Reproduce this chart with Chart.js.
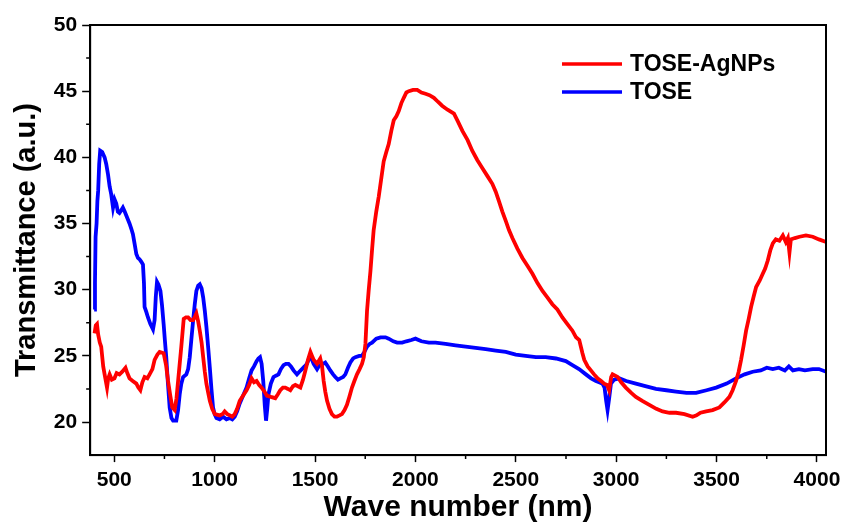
<!DOCTYPE html>
<html>
<head>
<meta charset="utf-8">
<title>Transmittance spectra</title>
<script src="https://cdn.jsdelivr.net/npm/chart.js@4.4.1/dist/chart.umd.min.js"></script>
<style>
    html, body { margin: 0; padding: 0; background: #fff; }
    #wrap { width: 845px; height: 522px; }
</style>
</head>
<body>
<div id="wrap"><canvas id="specChart" width="845" height="522"></canvas></div>
<script>
// Transmittance spectra: TOSE-AgNPs vs TOSE

// axis ticks
const xMajorTicks = [500, 1000, 1500, 2000, 2500, 3000, 3500, 4000];
const xMinorTicks = [750, 1250, 1750, 2250, 2750, 3250, 3750];
const yMajorTicks = [20, 25, 30, 35, 40, 45, 50];
const yMinorTicks = [22.5, 27.5, 32.5, 37.5, 42.5, 47.5];

// TOSE-AgNPs (red)
const agWave = [
    402, 408, 414, 420, 428, 435, 445, 452, 464, 470, 477, 488, 501, 512, 526, 540, 556, 565, 576, 592,
    610, 620, 630, 640, 651, 665, 676, 690, 701, 715, 726, 746, 758, 768, 779, 789, 801, 810, 818, 826,
    834, 846, 857, 868, 880, 893, 903, 909, 918, 926, 935, 943, 951, 959, 968, 976, 988, 1001, 1025, 1040,
    1050, 1063, 1076, 1088, 1100, 1112, 1125, 1142, 1159, 1172, 1184, 1196, 1209, 1222, 1234, 1248, 1260, 1280, 1302, 1315,
    1327, 1340, 1352, 1365, 1377, 1390, 1402, 1415, 1427, 1440, 1452, 1465, 1477, 1485, 1493, 1510, 1526, 1535, 1543, 1551,
    1560, 1572, 1584, 1597, 1609, 1622, 1634, 1647, 1659, 1671, 1684, 1696, 1709, 1722, 1734, 1743, 1751, 1759, 1767, 1776,
    1784, 1792, 1805, 1817, 1830, 1842, 1855, 1867, 1880, 1892, 1905, 1917, 1930, 1942, 1955, 1967, 1988, 2009, 2030, 2050,
    2070, 2092, 2112, 2133, 2160, 2192, 2212, 2234, 2260, 2283, 2308, 2333, 2358, 2383, 2400, 2416, 2433, 2450, 2466, 2483,
    2508, 2533, 2558, 2583, 2608, 2633, 2658, 2682, 2707, 2732, 2757, 2782, 2800, 2816, 2832, 2841, 2858, 2874, 2890, 2907,
    2925, 2940, 2955, 2965, 2975, 2982, 2995, 3007, 3025, 3048, 3075, 3098, 3130, 3165, 3200, 3231, 3265, 3298, 3340, 3381,
    3400, 3420, 3448, 3480, 3514, 3540, 3564, 3580, 3597, 3610, 3622, 3635, 3647, 3660, 3672, 3685, 3697, 3715, 3730, 3742,
    3755, 3768, 3780, 3795, 3813, 3830, 3845, 3855, 3863, 3870, 3890, 3913, 3945, 3979, 4010, 4046
];
const agTrans = [
    26.7, 27.3, 27.4, 26.6, 26.0, 25.7, 24.2, 23.6, 22.6, 23.3, 23.6, 23.2, 23.3, 23.7, 23.6, 23.8, 24.1, 23.7, 23.3, 23.1,
    22.9, 22.6, 22.4, 23.0, 23.4, 23.3, 23.6, 24.0, 24.7, 25.1, 25.3, 25.2, 24.3, 23.1, 22.0, 21.1, 20.9, 21.8, 23.1, 24.4,
    25.7, 27.8, 27.9, 27.9, 27.7, 27.7, 28.0, 28.2, 27.6, 26.9, 26.0, 24.9, 23.8, 22.9, 22.2, 21.6, 21.0, 20.6, 20.5, 20.6,
    20.8, 20.6, 20.5, 20.4, 20.6, 21.0, 21.6, 22.0, 22.4, 22.8, 23.3, 23.0, 23.1, 22.8, 22.6, 22.3, 22.0, 21.9, 21.8, 22.1,
    22.4, 22.6, 22.6, 22.5, 22.4, 22.7, 22.8, 22.7, 22.6, 23.2, 23.9, 24.7, 25.3, 25.0, 24.7, 24.4, 24.8, 24.2, 23.1, 22.3,
    21.6, 21.0, 20.6, 20.4, 20.4, 20.5, 20.6, 20.9, 21.3, 21.9, 22.6, 23.1, 23.6, 24.0, 24.4, 24.9, 25.9, 28.4, 29.9, 31.4,
    33.0, 34.5, 35.9, 37.0, 38.4, 39.7, 40.4, 41.0, 42.0, 42.8, 43.1, 43.5, 44.1, 44.5, 44.9, 45.0, 45.1, 45.1, 44.9, 44.8,
    44.7, 44.5, 44.2, 43.9, 43.6, 43.3, 42.7, 42.0, 41.3, 40.5, 39.8, 39.2, 38.6, 38.0, 37.4, 36.7, 35.9, 35.2, 34.5, 33.9,
    33.1, 32.4, 31.8, 31.2, 30.5, 29.9, 29.4, 28.9, 28.5, 27.9, 27.4, 26.9, 26.4, 26.2, 25.2, 24.7, 24.2, 23.9, 23.6, 23.3,
    23.1, 22.9, 22.8, 22.4, 23.4, 23.6, 23.5, 23.4, 23.0, 22.6, 22.2, 21.9, 21.6, 21.3, 21.0, 20.8, 20.7, 20.7, 20.6, 20.4,
    20.5, 20.7, 20.8, 20.9, 21.1, 21.5, 21.9, 22.4, 23.1, 23.8, 24.7, 25.8, 26.9, 27.8, 28.7, 29.5, 30.2, 30.7, 31.2, 31.6,
    32.2, 33.0, 33.5, 33.8, 33.7, 34.1, 33.6, 33.9, 32.8, 33.8, 33.9, 34.0, 34.1, 34.0, 33.8, 33.6
];

// TOSE (blue)
const toseWave = [
    400, 404, 407, 412, 416, 420, 425, 430, 440, 452, 460, 469, 477, 485, 494, 502, 510, 518, 526, 535,
    543, 552, 560, 568, 576, 585, 593, 601, 610, 618, 626, 635, 643, 648, 651, 660, 668, 680, 693, 701,
    707, 713, 720, 730, 738, 746, 752, 759, 767, 776, 785, 793, 809, 818, 826, 834, 843, 851, 859, 868,
    876, 885, 893, 901, 909, 918, 926, 935, 943, 951, 959, 968, 976, 984, 992, 1000, 1009, 1025, 1042, 1059,
    1076, 1088, 1100, 1112, 1125, 1142, 1159, 1172, 1184, 1196, 1209, 1218, 1226, 1234, 1242, 1250, 1256, 1262, 1268, 1280,
    1293, 1305, 1318, 1330, 1343, 1355, 1368, 1380, 1393, 1410, 1422, 1435, 1448, 1460, 1470, 1477, 1485, 1493, 1510, 1518,
    1526, 1540, 1551, 1564, 1576, 1590, 1601, 1614, 1626, 1640, 1651, 1664, 1676, 1690, 1701, 1720, 1734, 1746, 1759, 1772,
    1784, 1805, 1826, 1851, 1867, 1890, 1909, 1934, 1955, 1980, 2000, 2030, 2067, 2100, 2150, 2200, 2250, 2300, 2350, 2400,
    2450, 2500, 2549, 2600, 2649, 2700, 2749, 2782, 2815, 2849, 2875, 2899, 2915, 2932, 2942, 2950, 2957, 2965, 2974, 2990,
    3015, 3050, 3098, 3150, 3198, 3250, 3298, 3350, 3398, 3450, 3498, 3550, 3597, 3640, 3680, 3720, 3750, 3780, 3810, 3840,
    3860, 3880, 3910, 3940, 3979, 4010, 4046
];
const toseTrans = [
    28.5, 30.5, 34.0, 35.0, 36.7, 37.5, 39.5, 40.5, 40.4, 40.0, 39.5, 38.7, 37.8, 37.2, 36.2, 36.8, 36.5, 35.9, 35.8, 36.0,
    36.2, 35.9, 35.6, 35.3, 35.0, 34.6, 34.2, 33.5, 32.7, 32.4, 32.3, 32.1, 31.9, 30.5, 28.7, 28.3, 27.9, 27.4, 27.0, 27.7,
    29.5, 30.6, 30.4, 29.9, 28.8, 27.4, 26.2, 24.9, 23.0, 21.1, 20.3, 20.1, 20.1, 20.9, 22.1, 22.9, 23.4, 23.5, 23.6, 24.0,
    24.9, 26.4, 27.7, 28.9, 29.9, 30.3, 30.4, 30.1, 29.4, 28.4, 27.2, 25.6, 24.1, 22.5, 21.1, 20.6, 20.3, 20.2, 20.4, 20.2,
    20.3, 20.2, 20.4, 20.8, 21.4, 22.0, 22.6, 23.3, 23.9, 24.2, 24.6, 24.8, 24.9, 24.4, 23.1, 21.2, 20.1, 21.0, 22.1, 22.9,
    23.4, 23.5, 23.6, 24.0, 24.3, 24.4, 24.4, 24.2, 23.9, 23.6, 23.8, 24.0, 24.2, 24.4, 24.8, 25.0, 24.7, 24.4, 24.0, 24.2,
    24.3, 24.4, 24.5, 24.2, 23.9, 23.6, 23.4, 23.2, 23.3, 23.4, 23.6, 24.1, 24.5, 24.8, 24.9, 25.0, 25.0, 25.3, 25.7, 25.9,
    26.0, 26.3, 26.4, 26.4, 26.3, 26.1, 26.0, 26.0, 26.1, 26.2, 26.3, 26.1, 26.0, 26.0, 25.9, 25.8, 25.7, 25.6, 25.5, 25.4,
    25.3, 25.1, 25.0, 24.9, 24.9, 24.8, 24.6, 24.3, 24.0, 23.6, 23.3, 23.1, 23.0, 22.9, 22.6, 21.6, 20.9, 21.8, 22.9, 23.2,
    23.3, 23.1, 22.9, 22.7, 22.5, 22.4, 22.3, 22.2, 22.2, 22.4, 22.6, 22.9, 23.3, 23.6, 23.8, 23.9, 24.1, 24.0, 24.1, 23.9,
    24.2, 23.9, 24.0, 23.9, 24.0, 24.0, 23.8
];

const FONT = '"Liberation Sans", Arial, Helvetica, sans-serif';

function toPoints(xs, ys) {
    return xs.map((x, i) => ({ x: x, y: ys[i] }));
}

// closed frame, minor ticks and the legend box
const framePlugin = {
    id: 'framePlugin',
    afterDraw(chart) {
        const { ctx, chartArea: a, scales } = chart;
        ctx.save();
        ctx.strokeStyle = '#000';
        ctx.lineWidth = 2;
        ctx.strokeRect(a.left, a.top, a.right - a.left, a.bottom - a.top);

        ctx.lineWidth = 1.5;
        ctx.beginPath();
        xMinorTicks.forEach(v => {
            const px = scales.x.getPixelForValue(v);
            ctx.moveTo(px, a.bottom);
            ctx.lineTo(px, a.bottom + 4);
        });
        yMinorTicks.forEach(v => {
            const py = scales.y.getPixelForValue(v);
            ctx.moveTo(a.left, py);
            ctx.lineTo(a.left - 4, py);
        });
        ctx.stroke();

        // legend
        const lx = a.right - 264;
        ctx.font = 'bold 23px ' + FONT;
        ctx.textBaseline = 'middle';
        ctx.fillStyle = '#000';
        chart.data.datasets.forEach((ds, i) => {
            const ly = a.top + 39 + i * 28;
            ctx.strokeStyle = ds.borderColor;
            ctx.lineWidth = 3.5;
            ctx.beginPath();
            ctx.moveTo(lx, ly);
            ctx.lineTo(lx + 60, ly);
            ctx.stroke();
            ctx.fillText(ds.label, lx + 68, ly + 1);
        });
        ctx.restore();
    }
};

function axisTicks(values) {
    return function(scale) {
        scale.ticks = values.map(v => ({ value: v }));
    };
}

const ctx = document.getElementById('specChart');
new Chart(ctx, {
    type: 'line',
    data: {
        datasets: [
            {
                label: 'TOSE-AgNPs',
                data: toPoints(agWave, agTrans),
                borderColor: '#ff0000',
                borderWidth: 3.8,
                pointRadius: 0,
                tension: 0
            },
            {
                label: 'TOSE',
                data: toPoints(toseWave, toseTrans),
                borderColor: '#0000ff',
                borderWidth: 3.8,
                pointRadius: 0,
                tension: 0
            }
        ]
    },
    options: {
        responsive: false,
        animation: false,
        layout: {
            padding: { left: 10, right: 19, top: 25, bottom: 5 }
        },
        plugins: {
            legend: { display: false },
            tooltip: { enabled: false }
        },
        scales: {
            x: {
                type: 'linear',
                min: 380,
                max: 4045,
                afterBuildTicks: axisTicks(xMajorTicks),
                // the 4000 label may run into the right margin
                afterFit: function(scale) {
                    scale.paddingLeft = 0;
                    scale.paddingRight = 0;
                },
                border: { color: '#000', width: 2 },
                grid: {
                    drawOnChartArea: false,
                    drawTicks: true,
                    tickLength: 7,
                    tickWidth: 1.5,
                    tickColor: '#000'
                },
                ticks: {
                    color: '#000',
                    padding: 9,
                    maxRotation: 0,
                    font: { family: FONT, size: 21, weight: 'bold', lineHeight: 0.9 },
                    callback: function(value) {
                        return String(value);
                    }
                },
                title: {
                    display: true,
                    text: 'Wave number (nm)',
                    color: '#000',
                    padding: { top: 0, bottom: 0 },
                    font: { family: FONT, size: 30, weight: 'bold', lineHeight: 0.6 }
                }
            },
            y: {
                min: 17.5,
                max: 50,
                afterBuildTicks: axisTicks(yMajorTicks),
                border: { color: '#000', width: 2 },
                grid: {
                    drawOnChartArea: false,
                    drawTicks: true,
                    tickLength: 8,
                    tickWidth: 1.5,
                    tickColor: '#000'
                },
                ticks: {
                    color: '#000',
                    padding: 5,
                    font: { family: FONT, size: 21, weight: 'bold' }
                },
                title: {
                    display: true,
                    text: 'Transmittance (a.u.)',
                    color: '#000',
                    padding: { top: 0, bottom: 4 },
                    font: { family: FONT, size: 29, weight: 'bold' }
                }
            }
        }
    },
    plugins: [framePlugin]
});
</script>
</body>
</html>
